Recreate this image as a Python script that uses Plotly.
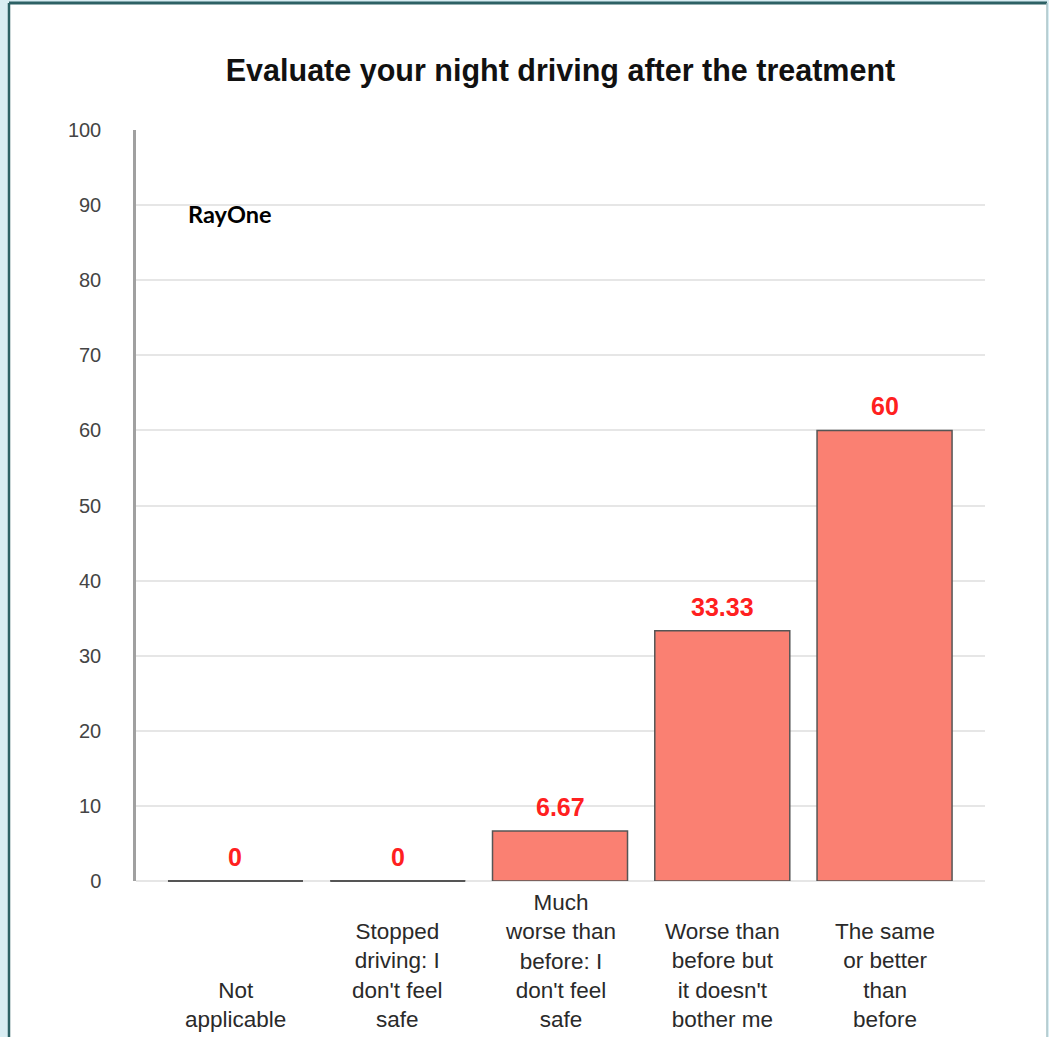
import plotly.graph_objects as go

# Survey results: night driving after the treatment (percent of respondents)
categories = [
    "Not applicable",
    "Stopped driving: I don't feel safe",
    "Much worse than before: I don't feel safe",
    "Worse than before but it doesn't bother me",
    "The same or better than before",
]
category_labels = [
    "Not<br>applicable",
    "Stopped<br>driving: I<br>don't feel<br>safe",
    "Much<br>worse than<br>before: I<br>don't feel<br>safe",
    "Worse than<br>before but<br>it doesn't<br>bother me",
    "The same<br>or better<br>than<br>before",
]
percentages = [0, 0, 6.67, 33.33, 60]
y_ticks = list(range(0, 101, 10))
series_name = "RayOne"
title_text = "Evaluate your night driving after the treatment"

W, H = 1049, 1037
M_L, M_R, M_T, M_B = 136, 64, 130, 156
PLOT_W = W - M_L - M_R
PLOT_H = H - M_T - M_B
Y_MIN, Y_MAX = 0, 100
BAR_GAP = 0.168

ARIAL = "Liberation Sans, Arial, sans-serif"
BAR_FILL = "#fa8072"
BAR_EDGE = "#555555"
LABEL_RED = "#ff2020"


def px_x(p):
    """Pixel column -> paper x."""
    return (p - M_L) / PLOT_W


def px_y(p):
    """Pixel row -> paper y."""
    return (H - M_B - p) / PLOT_H


fig = go.Figure()
fig.add_trace(go.Bar(
    x=categories,
    y=percentages,
    marker=dict(color=BAR_FILL, line=dict(color=BAR_EDGE, width=1.5)),
    hoverinfo="x+y",
    showlegend=False,
))

# Value labels above each bar
for cat, v in zip(categories, percentages):
    fig.add_annotation(
        x=cat, y=v, xref="x", yref="y",
        text=f"{v:g}", showarrow=False,
        yanchor="bottom", yshift=8,
        font=dict(family=ARIAL, size=25, color=LABEL_RED, weight="bold"),
    )

# Zero-height bars are shown as a flat outline on the baseline
half = (1 - BAR_GAP) / 2
for i, v in enumerate(percentages):
    if v == 0:
        yp = (v - Y_MIN) / (Y_MAX - Y_MIN)
        fig.add_shape(
            type="line", xref="x", yref="paper",
            x0=i - half, x1=i + half, y0=yp, y1=yp,
            line=dict(color=BAR_EDGE, width=2), layer="above",
        )

# Category labels, bottom aligned under each bar
for cat, lab in zip(categories, category_labels):
    fig.add_annotation(
        x=cat, y=px_y(1034), xref="x", yref="paper",
        text=lab, showarrow=False,
        xanchor="center", yanchor="bottom", align="center",
        font=dict(family=ARIAL, size=22.5, color="#2a2a2a"),
    )

# Series name inside the plot area
fig.add_annotation(
    x=px_x(186), y=px_y(214), xref="paper", yref="paper",
    text=f"<b>{series_name}</b>", showarrow=False,
    xanchor="left", yanchor="middle",
    font=dict(family="Lato, Carlito, Calibri, sans-serif", size=23.5, color="#000000"),
)

# Page frame: white card with dark left/top edges on a pale blue backdrop
fig.add_shape(type="rect", xref="paper", yref="paper",
              x0=px_x(10), x1=px_x(1047), y0=px_y(H + 5), y1=px_y(4),
              fillcolor="white", line=dict(width=0), layer="below")
fig.add_shape(type="line", xref="paper", yref="paper",
              x0=px_x(9), x1=px_x(9), y0=px_y(H + 5), y1=px_y(3),
              line=dict(color="#2d6165", width=2.5), layer="above")
fig.add_shape(type="line", xref="paper", yref="paper",
              x0=px_x(9), x1=px_x(1047), y0=px_y(3), y1=px_y(3),
              line=dict(color="#2d6165", width=3), layer="above")
fig.add_shape(type="line", xref="paper", yref="paper",
              x0=px_x(1047), x1=px_x(1047), y0=px_y(H + 5), y1=px_y(3),
              line=dict(color="#a8c3c7", width=1.5), layer="above")

fig.update_layout(
    width=W, height=H,
    margin=dict(l=M_L, r=M_R, t=M_T, b=M_B, pad=0),
    paper_bgcolor="#d9edf3",
    plot_bgcolor="white",
    bargap=BAR_GAP,
    title=dict(
        text=title_text,
        x=px_x(560.5), xref="paper", xanchor="center",
        y=1 - 70 / H, yref="container", yanchor="middle",
        font=dict(family=ARIAL, size=30.5, color="#111111", weight="bold"),
    ),
    xaxis=dict(
        type="category",
        range=[-0.613, len(categories) - 1 + 0.619],
        showticklabels=False, showgrid=False, zeroline=False,
        showline=False, ticks="", fixedrange=True,
    ),
    yaxis=dict(
        range=[Y_MIN, Y_MAX],
        tickvals=y_ticks,
        ticktext=[str(t) for t in y_ticks],
        showgrid=True, gridcolor="#e6e6e6", gridwidth=2,
        zeroline=True, zerolinecolor="#e6e6e6", zerolinewidth=2,
        showline=True, linecolor="#a0a0a0", linewidth=2.5,
        ticks="", ticklabelstandoff=28,
        tickfont=dict(family=ARIAL, size=20, color="#444444"),
        fixedrange=True,
    ),
)

fig.write_html("out.html")
